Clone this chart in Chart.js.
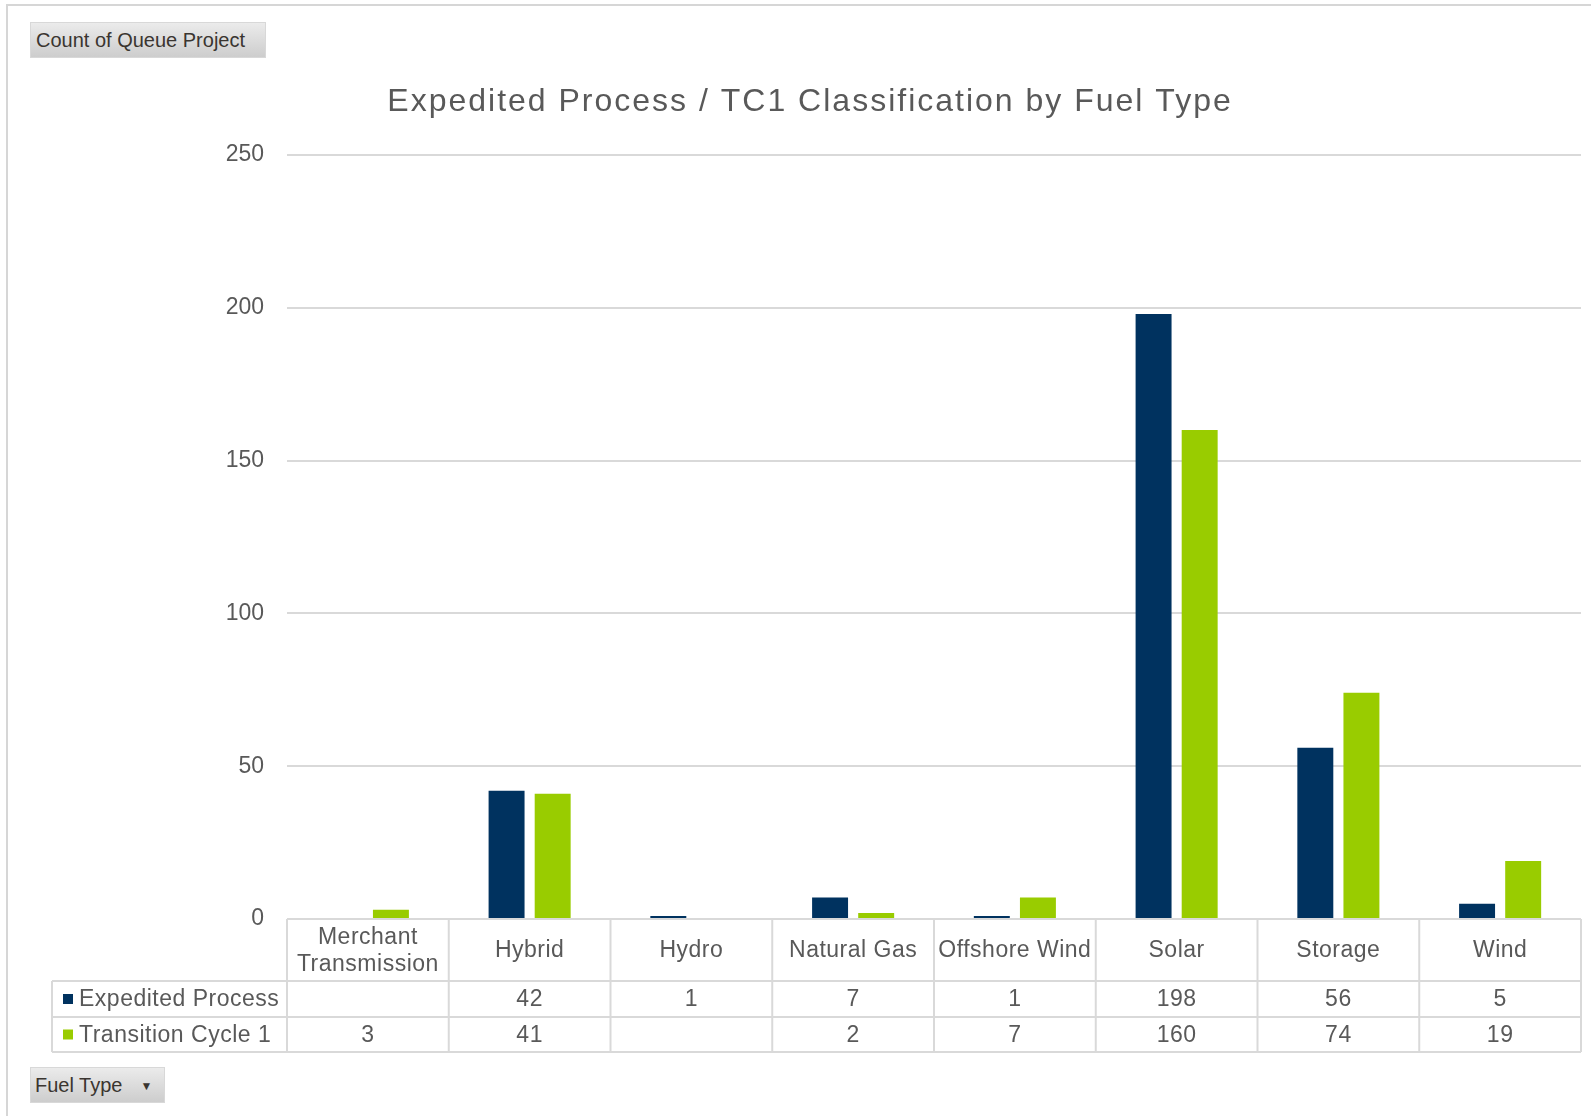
<!DOCTYPE html>
<html>
<head>
<meta charset="utf-8">
<title>Expedited Process / TC1 Classification by Fuel Type</title>
<script src="https://cdn.jsdelivr.net/npm/chart.js@4.4.1/dist/chart.umd.min.js"></script>
<style>
    html, body { margin: 0; padding: 0; background: #fff; overflow: hidden; }
    #wrap { position: relative; width: 1591px; height: 1116px; }
    #frame { position: absolute; left: 6px; top: 4px; width: 1600px; height: 1130px;
             border-left: 2px solid #d6d6d6; border-top: 2px solid #d6d6d6; }
    canvas { position: absolute; left: 0; top: 0; }
    .btn { position: absolute; z-index: 2; box-sizing: border-box;
           font-family: "Liberation Sans", Arial, sans-serif; font-size: 20px; color: #3a3530;
           background: linear-gradient(#ebebeb, #cdcdcd); border: 1px solid #d8d8d8;
           line-height: 34px; padding-left: 5px; white-space: nowrap; }
    #valueBtn { left: 30px; top: 22px; width: 236px; height: 36px; }
    #axisBtn { left: 30px; top: 1067px; width: 135px; height: 36px; padding-left: 4px; }
    #axisBtn span { font-size: 12px; margin-left: 18px; vertical-align: 2px; }
</style>
</head>
<body>
<div id="wrap">
    <div id="frame"></div>
    <canvas id="chartFuel" width="1591" height="1116"></canvas>
    <div class="btn" id="valueBtn">Count of Queue Project</div>
    <div class="btn" id="axisBtn">Fuel Type<span>&#9660;</span></div>
</div>
<script>
const chartTitle = 'Expedited Process / TC1 Classification by Fuel Type';
const fuelTypes = [['Merchant', 'Transmission'], 'Hybrid', 'Hydro', 'Natural Gas',
    'Offshore Wind', 'Solar', 'Storage', 'Wind'];
const seriesNames = ['Expedited Process', 'Transition Cycle 1'];
const expedited = [null, 42, 1, 7, 1, 198, 56, 5];
const transition1 = [3, 41, null, 2, 7, 160, 74, 19];
const yMax = 250;
const yStep = 50;

const colNavy = '#00325f';
const colGreen = '#99cc00';
const textGray = '#595959';
const lineGray = '#d9d9d9';
const fontName = '"Liberation Sans", Arial, sans-serif';

// title drawn by hand so the wide Excel letter spacing can be kept
const titlePlugin = {
    id: 'wideTitle',
    afterDraw(chart) {
        const ctx = chart.ctx;
        ctx.save();
        ctx.font = '32px ' + fontName;
        ctx.fillStyle = textGray;
        ctx.letterSpacing = '2px';
        ctx.textAlign = 'center';
        ctx.textBaseline = 'alphabetic';
        ctx.fillText(chartTitle, 810, 111);
        ctx.restore();
    }
};

// data table under the x axis (category row + one row per series)
const tablePlugin = {
    id: 'dataTable',
    afterDraw(chart) {
        const ctx = chart.ctx;
        const x = chart.scales.x;
        const area = chart.chartArea;
        const half = (x.getPixelForValue(1) - x.getPixelForValue(0)) / 2;
        const top = area.bottom;
        const r1 = top + 62, r2 = r1 + 36, r3 = r2 + 35;
        const left = 52;

        const line = (x1, y1, x2, y2) => {
            ctx.beginPath();
            ctx.moveTo(x1, y1);
            ctx.lineTo(x2, y2);
            ctx.stroke();
        };

        ctx.save();
        ctx.strokeStyle = lineGray;
        ctx.lineWidth = 2;
        line(area.left, top, area.right, top);
        line(left, r1, area.right, r1);
        line(left, r2, area.right, r2);
        line(left, r3, area.right, r3);
        line(left, r1, left, r3);
        for (let i = 0; i <= fuelTypes.length; i++) {
            const bx = i < fuelTypes.length ? x.getPixelForValue(i) - half : area.right;
            line(bx, top, bx, r3);
        }

        ctx.font = '23px ' + fontName;
        ctx.fillStyle = textGray;
        ctx.letterSpacing = '0.5px';
        ctx.textBaseline = 'middle';
        ctx.textAlign = 'center';

        const rows = [expedited, transition1];
        fuelTypes.forEach((name, i) => {
            const cx = x.getPixelForValue(i);
            const lines = Array.isArray(name) ? name : [name];
            const mid = (top + r1) / 2 + 1;
            lines.forEach((t, k) => {
                ctx.fillText(t, cx, mid + (k - (lines.length - 1) / 2) * 27);
            });
            rows.forEach((vals, j) => {
                const v = vals[i];
                const cy = j === 0 ? (r1 + r2) / 2 : (r2 + r3) / 2;
                if (v !== null) ctx.fillText(String(v), cx, cy + 1);
            });
        });

        ctx.textAlign = 'left';
        [colNavy, colGreen].forEach((c, j) => {
            const cy = j === 0 ? (r1 + r2) / 2 : (r2 + r3) / 2;
            ctx.fillStyle = c;
            ctx.fillRect(63, cy - 5, 10, 10);
            ctx.fillStyle = textGray;
            ctx.fillText(seriesNames[j], 79, cy + 1);
        });
        ctx.restore();
    }
};

new Chart(document.getElementById('chartFuel'), {
    type: 'bar',
    data: {
        labels: fuelTypes,
        datasets: [
            { label: seriesNames[0], data: expedited, backgroundColor: colNavy },
            { label: seriesNames[1], data: transition1, backgroundColor: colGreen },
        ],
    },
    options: {
        responsive: false,
        animation: false,
        categoryPercentage: 0.57,
        barPercentage: 0.78,
        layout: { padding: { left: 40, right: 10, top: 155, bottom: 197 } },
        plugins: {
            legend: { display: false },
            title: { display: false },
            tooltip: { enabled: false },
        },
        scales: {
            x: { display: false },
            y: {
                min: 0,
                max: yMax,
                border: { display: false },
                grid: { color: lineGray, lineWidth: 2, drawTicks: false },
                ticks: {
                    stepSize: yStep,
                    padding: 23,
                    color: textGray,
                    font: { family: fontName, size: 23 },
                },
                afterFit(scale) { scale.width = 247; },
            },
        },
    },
    plugins: [titlePlugin, tablePlugin],
});
</script>
</body>
</html>
